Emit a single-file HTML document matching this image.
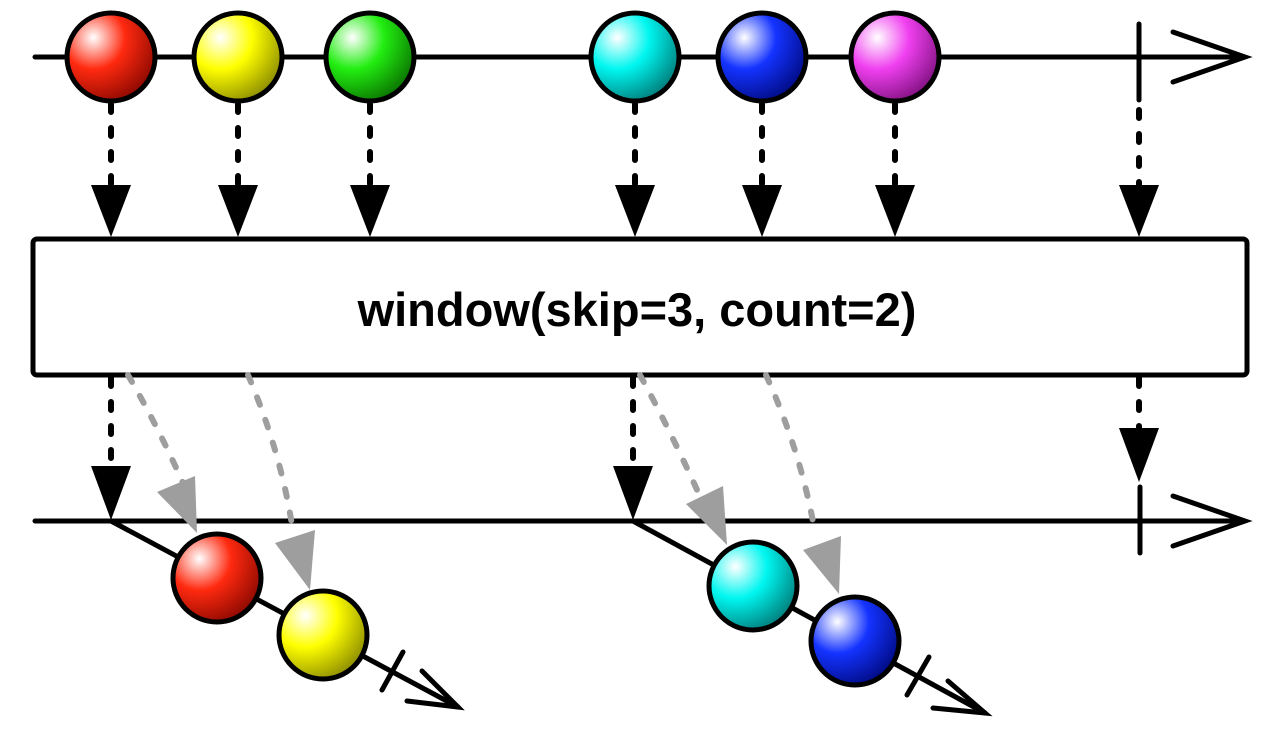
<!DOCTYPE html>
<html><head><meta charset="utf-8"><style>html,body{margin:0;padding:0;background:#fff}svg{display:block}</style></head><body>
<svg width="1280" height="730" viewBox="0 0 1280 730" xmlns="http://www.w3.org/2000/svg">
<defs>
<radialGradient id="gr" cx="0.3" cy="0.28" r="0.8"><stop offset="0" stop-color="#fff"/><stop offset="0.45" stop-color="#ff2a10"/><stop offset="1" stop-color="#8a0800"/></radialGradient>
<radialGradient id="gy" cx="0.3" cy="0.28" r="0.8"><stop offset="0" stop-color="#fff"/><stop offset="0.45" stop-color="#ffff00"/><stop offset="1" stop-color="#8a8a00"/></radialGradient>
<radialGradient id="gg" cx="0.3" cy="0.28" r="0.8"><stop offset="0" stop-color="#fff"/><stop offset="0.45" stop-color="#22ee11"/><stop offset="1" stop-color="#0a7000"/></radialGradient>
<radialGradient id="gc" cx="0.3" cy="0.28" r="0.8"><stop offset="0" stop-color="#fff"/><stop offset="0.45" stop-color="#00f6f0"/><stop offset="1" stop-color="#007a78"/></radialGradient>
<radialGradient id="gb" cx="0.3" cy="0.28" r="0.8"><stop offset="0" stop-color="#fff"/><stop offset="0.45" stop-color="#1433ff"/><stop offset="1" stop-color="#000a80"/></radialGradient>
<radialGradient id="gm" cx="0.3" cy="0.28" r="0.8"><stop offset="0" stop-color="#fff"/><stop offset="0.45" stop-color="#f040f0"/><stop offset="1" stop-color="#801080"/></radialGradient>
</defs>
<g stroke="#000" stroke-width="5" fill="none" stroke-linecap="round">
<line x1="35" y1="57" x2="1242" y2="57"/>
<polyline points="1173,32 1245,57 1173,82"/>
<line x1="1139" y1="24" x2="1139" y2="100"/>
<line x1="35" y1="521" x2="1242" y2="521"/>
<polyline points="1173,496 1245,521 1173,546"/>
<line x1="1140" y1="487" x2="1140" y2="553"/>
</g>
<g stroke="#000" stroke-width="6" stroke-dasharray="8,16" stroke-linecap="round">
<line x1="111" y1="104" x2="111" y2="185"/><line x1="238" y1="104" x2="238" y2="185"/><line x1="370" y1="104" x2="370" y2="185"/>
<line x1="635" y1="104" x2="635" y2="185"/><line x1="762" y1="104" x2="762" y2="185"/><line x1="895" y1="104" x2="895" y2="185"/>
<line x1="1139" y1="110" x2="1139" y2="185"/>
<line x1="111" y1="378" x2="111" y2="470"/><line x1="633" y1="378" x2="633" y2="470"/><line x1="1139" y1="378" x2="1139" y2="470"/>
</g>
<g fill="#000">
<polygon points="91,185 131,185 111,237"/><polygon points="218,185 258,185 238,237"/><polygon points="350,185 390,185 370,237"/>
<polygon points="615,185 655,185 635,237"/><polygon points="742,185 782,185 762,237"/><polygon points="875,185 915,185 895,237"/>
<polygon points="1119,185 1159,185 1139,237"/>
<polygon points="91,466 131,466 111,520"/><polygon points="613,466 653,466 633,520"/><polygon points="1119,428 1159,428 1139,482"/>
</g>
<rect x="33" y="239" width="1214" height="136" rx="4" fill="#fff" stroke="#000" stroke-width="5"/>
<text x="637" y="326" text-anchor="middle" font-family="Liberation Sans, sans-serif" font-weight="bold" font-size="47">window(skip=3, count=2)</text>
<g stroke="#9e9e9e" stroke-width="6" stroke-dasharray="8,16" stroke-linecap="round" fill="none">
<path d="M128,375 Q160,430 186,490"/><path d="M248,375 Q280,450 292,525"/>
<path d="M640,375 Q670,430 698,492"/><path d="M766,375 Q800,450 814,527"/>
</g>
<g fill="#9e9e9e">
<polygon points="157,492 195,476 197,533"/><polygon points="275,543 315,530 310,590"/>
<polygon points="686,504 723,486 727,545"/><polygon points="803,550 841,536 839,594"/>
</g>
<g stroke="#000" stroke-width="5" fill="none" stroke-linecap="round">
<line x1="111" y1="521" x2="458" y2="707"/>
<line x1="382" y1="690" x2="403" y2="652"/>
<polyline points="422,671 458,707 407,701"/>
<line x1="633" y1="521" x2="985" y2="713"/>
<line x1="907" y1="695" x2="929" y2="657"/>
<polyline points="948,681 985,713 933,708"/>
</g>
<g stroke="#000" stroke-width="5">
<circle cx="111" cy="57" r="44" fill="url(#gr)"/><circle cx="238" cy="57" r="44" fill="url(#gy)"/><circle cx="370" cy="57" r="44" fill="url(#gg)"/>
<circle cx="635" cy="57" r="44" fill="url(#gc)"/><circle cx="762" cy="57" r="44" fill="url(#gb)"/><circle cx="895" cy="57" r="44" fill="url(#gm)"/>
<circle cx="217" cy="578" r="44" fill="url(#gr)"/><circle cx="323" cy="635" r="44" fill="url(#gy)"/>
<circle cx="753" cy="586" r="44" fill="url(#gc)"/><circle cx="855" cy="641" r="44" fill="url(#gb)"/>
</g>
</svg>
</body></html>
